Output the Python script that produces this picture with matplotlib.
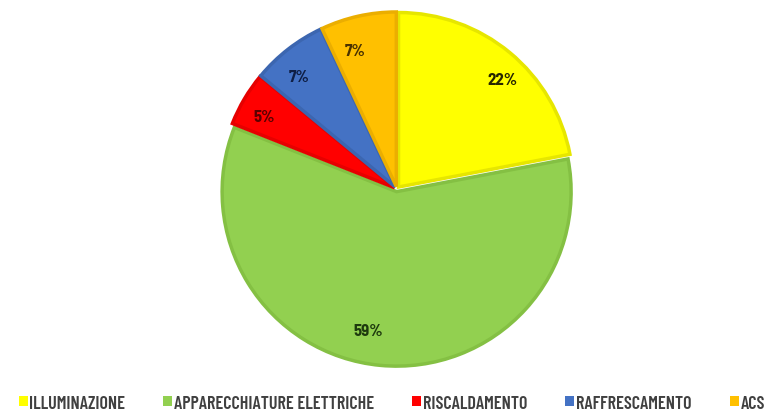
import matplotlib.pyplot as plt

categorie = ["ILLUMINAZIONE", "APPARECCHIATURE ELETTRICHE", "RISCALDAMENTO", "RAFFRESCAMENTO", "ACS"]
valori = [22, 59, 5, 7, 7]
colori = ["#FFFF00", "#92D050", "#FF0000", "#4472C4", "#FFC000"]
bordi = ["#E6E600", "#84C043", "#E60000", "#3C66B0", "#EBAE00"]
col_testo = ["#262600", "#1E3A0E", "#5A0000", "#0F1F45", "#4A3300"]

plt.rcParams['font.family'] = ['Barlow Semi Condensed', 'DejaVu Sans']

fig = plt.figure(figsize=(7.68, 4.14), dpi=100)
ax = fig.add_axes([0.285, 0.111, 0.4635, 0.86])

wedges, testi = ax.pie(valori, colors=colori, startangle=90, counterclock=False,
                       explode=[0.015] * 5, labels=[f"{v}%" for v in valori],
                       labeldistance=0.8, wedgeprops=dict(linewidth=2.5),
                       textprops=dict(fontsize=12, fontweight=700))
for w, b in zip(wedges, bordi):
    w.set_edgecolor(b)
for t, c in zip(testi, col_testo):
    t.set_color(c)
ax.set_xlim(-1.02, 1.02)
ax.set_ylim(-1.02, 1.02)
ax.set_aspect("equal")

leg = fig.legend(wedges, categorie, loc="lower center", bbox_to_anchor=(0.51, -0.036),
                 ncol=5, frameon=False, handlelength=0.5, handleheight=0.5,
                 handletextpad=0.1, columnspacing=2.1,
                 prop=dict(family="Barlow Condensed", size=13, weight=600))
for t in leg.get_texts():
    t.set_color("#404040")
for h in leg.legend_handles:
    h.set_linewidth(0)

fig.savefig("out.png", dpi=100)
